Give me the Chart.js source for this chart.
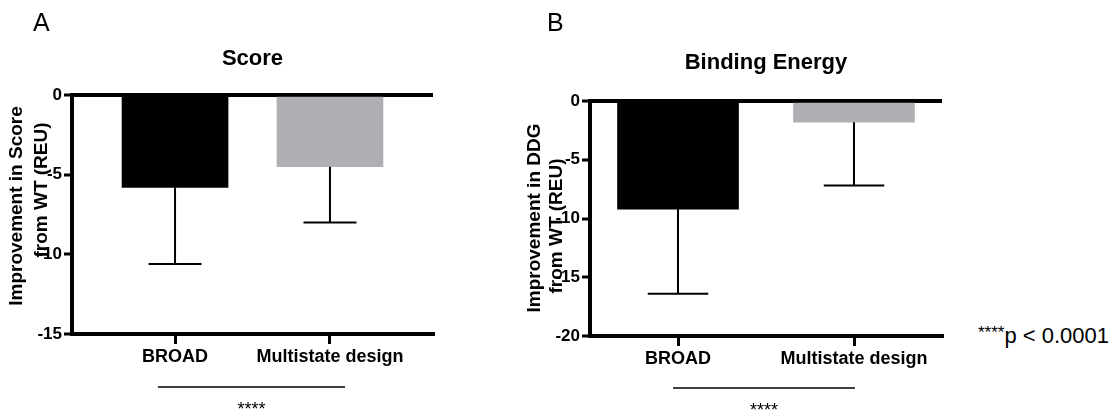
<!DOCTYPE html>
<html lang="en">
  <head>
    <meta charset="UTF-8" />
    <title>Score and Binding Energy</title>
    <style>
      body { margin: 0; background: #fff; }
      #wrap { position: relative; width: 1112px; height: 410px; overflow: hidden; }
      canvas { position: absolute; top: 0; }
      #pval {
        position: absolute; left: 978px; top: 323px; white-space: nowrap;
        font-family: "Liberation Sans", Arial, sans-serif; font-size: 22px; color: #000;
      }
      #pval span { font-size: 17px; vertical-align: 5px; }
    </style>
  </head>
  <body>
    <div id="wrap">
      <canvas id="score_chart" width="480" height="410" style="left:0px"></canvas>
      <canvas id="ddg_chart" width="450" height="410" style="left:520px"></canvas>
      <div id="pval"><span>****</span>p &lt; 0.0001</div>
    </div>
    <script src="https://cdn.jsdelivr.net/npm/chart.js@4.4.1/dist/chart.umd.min.js"></script>
    <script>
      const categories = ["BROAD", "Multistate design"];
      const scoreMeans = [-5.8, -4.5];
      const scoreErr = [4.8, 3.5];
      const scoreTicks = [0, -5, -10, -15];
      const ddgMeans = [-9.2, -1.8];
      const ddgErr = [7.2, 5.4];
      const ddgTicks = [0, -5, -10, -15, -20];
      const barColors = ["#000000", "#b0afb4"];
      const font = "'Liberation Sans', Arial, sans-serif";

      // error bars (only away from zero) + titles, letter, bracket
      const decor = {
        id: "decor",
        afterDatasetsDraw(chart, args, o) {
          const ctx = chart.ctx;
          const meta = chart.getDatasetMeta(0);
          const y = chart.scales.y;
          ctx.save();
          ctx.strokeStyle = "#000";
          ctx.lineWidth = 2;
          meta.data.forEach((bar, i) => {
            const v = o.means[i];
            const yEnd = y.getPixelForValue(v - o.err[i]);
            const half = bar.width / 4;
            ctx.beginPath();
            ctx.moveTo(bar.x, bar.y);
            ctx.lineTo(bar.x, yEnd);
            ctx.moveTo(bar.x - half, yEnd);
            ctx.lineTo(bar.x + half, yEnd);
            ctx.stroke();
          });
          ctx.restore();
        },
        afterDraw(chart, args, o) {
          const ctx = chart.ctx;
          const area = chart.chartArea;
          ctx.save();
          ctx.fillStyle = "#000";
          ctx.textAlign = "left";
          ctx.textBaseline = "alphabetic";
          ctx.font = "25px " + font;
          ctx.fillText(o.letter, o.letterX, 31);

          ctx.textAlign = "center";
          ctx.font = "bold 22px " + font;
          ctx.fillText(o.title, (area.left + area.right) / 2, o.titleY);

          ctx.font = "bold 19px " + font;
          ctx.textBaseline = "middle";
          o.yTitle.forEach((line, i) => {
            ctx.save();
            ctx.translate(area.left + o.yTitleX[i], o.yTitleY[i]);
            ctx.rotate(-Math.PI / 2);
            ctx.fillText(line, 0, 0);
            ctx.restore();
          });

          ctx.strokeStyle = "#000";
          ctx.lineWidth = 1.5;
          ctx.beginPath();
          ctx.moveTo(o.bracket[0], o.bracket[2]);
          ctx.lineTo(o.bracket[1], o.bracket[2]);
          ctx.stroke();
          ctx.textBaseline = "alphabetic";
          ctx.font = "18px " + font;
          ctx.fillText("****", (o.bracket[0] + o.bracket[1]) / 2, o.bracket[2] + 28);
          ctx.restore();
        }
      };

      function makePanel(id, means, err, ticks, p) {
        return new Chart(id, {
          type: "bar",
          data: {
            datasets: [{
              data: categories.map((c, i) => ({ x: i, y: means[i] })),
              backgroundColor: barColors,
              borderWidth: 0,
              barThickness: p.barWidth
            }]
          },
          plugins: [decor],
          options: {
            responsive: false,
            animation: false,
            devicePixelRatio: 1,
            layout: { padding: p.padding },
            plugins: {
              legend: { display: false },
              tooltip: { enabled: false },
              decor: Object.assign({ means: means, err: err }, p.decor)
            },
            scales: {
              x: {
                type: "linear",
                min: p.xRange[0],
                max: p.xRange[1],
                offset: false,
                afterBuildTicks: s => { s.ticks = categories.map((c, i) => ({ value: i })); },
                afterFit: s => { s.height = 32; },
                ticks: {
                  callback: v => categories[v],
                  color: "#000",
                  font: { family: font, size: 18, weight: "bold" },
                  padding: 2,
                  maxRotation: 0,
                  autoSkip: false
                },
                grid: { offset: false, drawOnChartArea: false, tickLength: 10, tickColor: "#000", lineWidth: 3 },
                border: { display: true, width: 4, color: "#000" }
              },
              y: {
                min: ticks[ticks.length - 1],
                max: 0,
                afterBuildTicks: s => { s.ticks = ticks.map(v => ({ value: v })); },
                afterFit: s => { s.width = p.yWidth; },
                ticks: {
                  color: "#000",
                  font: { family: font, size: 17, weight: "bold" },
                  padding: 2
                },
                grid: {
                  color: c => (c.tick && c.tick.value === 0 ? "#000" : "rgba(0,0,0,0)"),
                  lineWidth: 4,
                  tickColor: "#000",
                  tickWidth: 3,
                  tickLength: 8
                },
                border: { display: true, width: 4, color: "#000" }
              }
            }
          }
        });
      }

      makePanel("score_chart", scoreMeans, scoreErr, scoreTicks, {
        barWidth: 106,
        xRange: [-0.665, 1.665],
        yWidth: 72,
        padding: { left: 0, top: 95, right: 47, bottom: 44 },
        decor: {
          letter: "A", letterX: 33, title: "Score", titleY: 65,
          yTitle: ["Improvement in Score", "from WT (REU)"],
          yTitleX: [-55, -30], yTitleY: [206, 190],
          bracket: [158, 345, 387]
        }
      });

      makePanel("ddg_chart", ddgMeans, ddgErr, ddgTicks, {
        barWidth: 121,
        xRange: [-0.5, 1.5],
        yWidth: 70,
        padding: { left: 0, top: 101, right: 28, bottom: 42 },
        decor: {
          letter: "B", letterX: 27, title: "Binding Energy", titleY: 69,
          yTitle: ["Improvement in DDG", "from WT (REU)"],
          yTitleX: [-55, -33], yTitleY: [218, 226],
          bracket: [153, 335, 388]
        }
      });
    </script>
  </body>
</html>
